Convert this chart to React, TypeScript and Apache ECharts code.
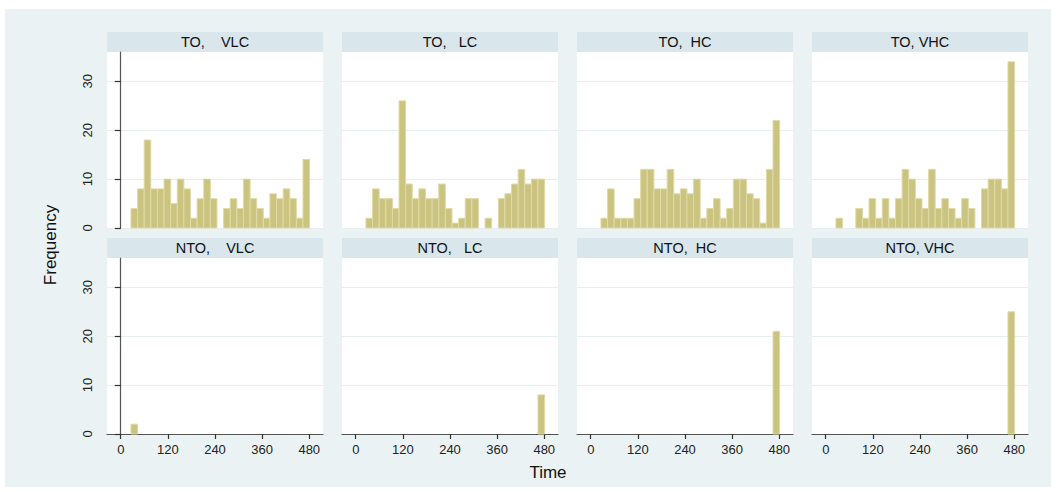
import React, { useEffect, useRef } from "react";
import * as echarts from "echarts";

// ---- data (27 common bins of Time) ----
const binStart = 26;
const binWidth = 16.85;
const xTickLabels = [0, 120, 240, 360, 480];
const yTickLabels = [0, 10, 20, 30];

const rowTitles = [
  ["TO,    VLC", "TO,   LC", "TO,  HC", "TO, VHC"],
  ["NTO,    VLC", "NTO,   LC", "NTO,  HC", "NTO, VHC"],
];

const toVLC = [4, 8, 18, 8, 8, 10, 5, 10, 8, 2, 6, 10, 6, 0, 4, 6, 4, 10, 6, 4, 2, 7, 6, 8, 6, 2, 14];
const toLC = [2, 8, 6, 6, 4, 26, 9, 6, 8, 6, 6, 9, 4, 1, 2, 6, 6, 0, 2, 0, 6, 7, 9, 12, 9, 10, 10];
const toHC = [2, 8, 2, 2, 2, 6, 12, 12, 8, 8, 12, 7, 8, 7, 10, 2, 4, 6, 2, 4, 10, 10, 7, 6, 1, 12, 22];
const toVHC = [2, 0, 0, 4, 2, 6, 2, 6, 2, 6, 12, 10, 6, 4, 12, 4, 6, 4, 2, 6, 4, 0, 8, 10, 10, 8, 34];
const ntoVLC = [2, 0, 0, 0, 0, 0, 0, 0, 0, 0, 0, 0, 0, 0, 0, 0, 0, 0, 0, 0, 0, 0, 0, 0, 0, 0, 0];
const ntoLC = [0, 0, 0, 0, 0, 0, 0, 0, 0, 0, 0, 0, 0, 0, 0, 0, 0, 0, 0, 0, 0, 0, 0, 0, 0, 0, 8];
const ntoHC = [0, 0, 0, 0, 0, 0, 0, 0, 0, 0, 0, 0, 0, 0, 0, 0, 0, 0, 0, 0, 0, 0, 0, 0, 0, 0, 21];
const ntoVHC = [0, 0, 0, 0, 0, 0, 0, 0, 0, 0, 0, 0, 0, 0, 0, 0, 0, 0, 0, 0, 0, 0, 0, 0, 0, 0, 25];

const panels = [
  [toVLC, toLC, toHC, toVHC],
  [ntoVLC, ntoLC, ntoHC, ntoVHC],
];

const FONT = "Liberation Sans, Arial, sans-serif";

export default function App() {
  const ref = useRef<HTMLDivElement>(null);

  useEffect(() => {
    if (!ref.current) return;
    const chart = echarts.init(ref.current, null, { renderer: "svg" });

    const grids: any[] = [];
    const xAxes: any[] = [];
    const yAxes: any[] = [];
    const series: any[] = [];
    const graphics: any[] = [
      {
        type: "rect",
        z: -100,
        shape: { x: 5, y: 9, width: 1046, height: 478 },
        style: { fill: "#eaf2f3" },
      },
    ];

    const left0 = 107;
    const step = 235;
    const pw = 216;
    const ph = 176;
    const tops = [52, 258];

    let idx = 0;
    for (let r = 0; r < 2; r++) {
      for (let c = 0; c < 4; c++) {
        const left = left0 + step * c;
        const top = tops[r];
        grids.push({
          left,
          top,
          width: pw,
          height: ph,
          show: true,
          backgroundColor: "#ffffff",
          borderWidth: 0,
        });
        xAxes.push({
          type: "value",
          gridIndex: idx,
          min: -35,
          max: 515,
          axisLine: { show: r === 1, onZero: false, lineStyle: { color: "#555555", width: 1.2 } },
          axisTick: {
            show: r === 1,
            customValues: xTickLabels,
            length: 5,
            lineStyle: { color: "#333333", width: 1.2 },
          },
          axisLabel: {
            show: r === 1,
            customValues: xTickLabels,
            margin: 9,
            fontSize: 13,
            color: "#222222",
            fontFamily: FONT,
          },
          splitLine: { show: false },
        });
        yAxes.push({
          type: "value",
          gridIndex: idx,
          min: 0,
          max: 36,
          axisLine: { show: c === 0, lineStyle: { color: "#555555", width: 1.2 } },
          axisTick: {
            show: c === 0,
            customValues: yTickLabels,
            length: 6,
            lineStyle: { color: "#333333", width: 1.2 },
          },
          axisLabel: {
            show: c === 0,
            customValues: yTickLabels,
            rotate: 90,
            margin: 13,
            fontSize: 13,
            color: "#222222",
            fontFamily: FONT,
          },
          splitLine: { show: true, lineStyle: { color: "#e6eef0", width: 1.2 } },
        });
        const values = panels[r][c];
        series.push({
          type: "custom",
          xAxisIndex: idx,
          yAxisIndex: idx,
          data: values.map((v, i) => [i, v]),
          renderItem: (params: any, api: any) => {
            const i = api.value(0);
            const v = api.value(1);
            if (!v) return null;
            const p0 = api.coord([binStart + i * binWidth, v]);
            const p1 = api.coord([binStart + (i + 1) * binWidth, 0]);
            return {
              type: "rect",
              shape: { x: p0[0], y: p0[1], width: p1[0] - p0[0], height: p1[1] - p0[1] },
              style: { fill: "#cbc380", stroke: "#e0daa6", lineWidth: 1 },
            };
          },
        });
        // strip
        graphics.push({
          type: "rect",
          shape: { x: left, y: top - 20, width: pw, height: 20 },
          style: { fill: "#d9e6eb" },
        });
        graphics.push({
          type: "text",
          x: left + pw / 2,
          y: top - 10,
          style: {
            text: rowTitles[r][c],
            fontSize: 14.5,
            fontFamily: FONT,
            fill: "#111111",
            align: "center",
            verticalAlign: "middle",
          },
        });
        idx++;
      }
    }

    graphics.push({
      type: "text",
      x: 50,
      y: 245,
      rotation: Math.PI / 2,
      style: {
        text: "Frequency",
        fontSize: 17,
        fontFamily: FONT,
        fill: "#111111",
        align: "center",
        verticalAlign: "middle",
      },
    });
    graphics.push({
      type: "text",
      x: 548,
      y: 472,
      style: {
        text: "Time",
        fontSize: 17,
        fontFamily: FONT,
        fill: "#111111",
        align: "center",
        verticalAlign: "middle",
      },
    });

    chart.setOption({
      animation: false,
      backgroundColor: "#ffffff",
      grid: grids,
      xAxis: xAxes,
      yAxis: yAxes,
      series,
      graphic: graphics,
    });

    return () => chart.dispose();
  }, []);

  return (
    <div
      ref={ref}
      style={{ position: "fixed", left: 0, top: 0, width: 1056, height: 492 }}
    />
  );
}
